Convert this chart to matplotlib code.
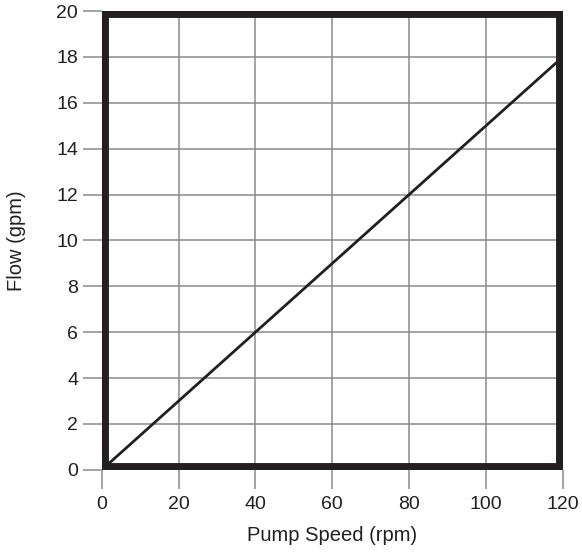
import matplotlib.pyplot as plt
from matplotlib.patches import Rectangle

plt.rcParams['font.family'] = ['Liberation Sans', 'DejaVu Sans']

# data
pump_speed = [0, 120]
flow = [0, 18]
x_ticks = [0, 20, 40, 60, 80, 100, 120]
y_ticks = [0, 2, 4, 6, 8, 10, 12, 14, 16, 18, 20]

ink = '#231f20'
grid_gray = '#8a8a8a'

fig = plt.figure(figsize=(5.82, 5.52), dpi=100)
ax = fig.add_axes([0.175, 0.149, 0.792, 0.831])

ax.set_xlim(0, 120)
ax.set_ylim(0, 20)
ax.set_xticks(x_ticks)
ax.set_yticks(y_ticks)
ax.grid(True, color=grid_gray, linewidth=1.1)
ax.set_axisbelow(True)

for s in ax.spines.values():
    s.set_visible(False)

ax.tick_params(axis='both', length=14, width=1.1, color=grid_gray,
               labelsize=14, labelcolor=ink)
ax.tick_params(axis='x', pad=5)
ax.tick_params(axis='y', pad=3)

ax.plot(pump_speed, flow, color=ink, linewidth=2, solid_capstyle='butt', zorder=3)

# thick frame drawn inward: outer half is clipped by the axes
frame = Rectangle((0, 0), 120, 20, fill=False, edgecolor=ink, linewidth=10,
                  zorder=4, clip_on=True)
ax.add_patch(frame)

ax.set_xlabel('Pump Speed (rpm)', fontsize=14.5, color=ink, labelpad=9)
ax.set_ylabel('Flow (gpm)', fontsize=14.5, color=ink, labelpad=22)

fig.savefig('out.png', dpi=100)
